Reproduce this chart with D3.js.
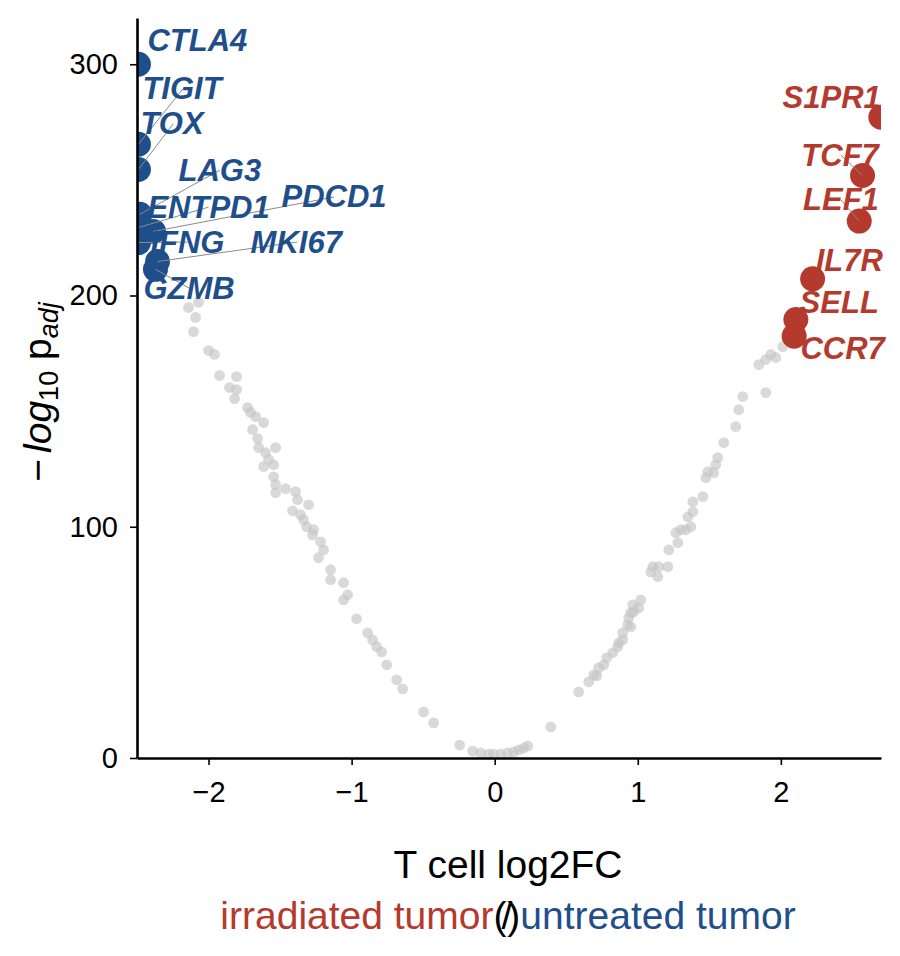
<!DOCTYPE html>
<html>
<head>
<meta charset="utf-8">
<script src="https://cdn.jsdelivr.net/npm/d3@7"></script>
<style>
  body { margin: 0; background: #fff; }
  svg { font-family: "Liberation Sans", Arial, Helvetica, sans-serif; }
</style>
</head>
<body>
<svg id="chart" width="900" height="956"></svg>
<script>
// background genes (log2FC, -log10 padj)
const bgX = [-2.070,-2.140,-2.091,-2.105,-2.000,-1.958,-1.923,-1.804,-1.853,-1.804,-1.818,-1.727,-1.706,-1.671,-1.615,-1.692,-1.657,-1.531,-1.650,-1.601,-1.580,-1.545,-1.615,-1.545,-1.531,-1.462,-1.392,-1.531,-1.378,-1.301,-1.413,-1.357,-1.336,-1.315,-1.266,-1.273,-1.217,-1.196,-1.231,-1.147,-1.147,-1.056,-1.028,-1.056,-0.965,-0.888,-0.853,-0.825,-0.790,-0.755,-0.685,-0.643,-0.497,-0.427,-0.245,-0.154,-0.098,-0.042,-0.007,0.042,0.091,0.133,0.168,0.203,0.231,
  0.392,0.587,0.657,0.713,0.692,0.727,0.762,0.783,0.825,0.860,0.867,0.895,0.895,0.930,0.951,0.937,0.951,0.972,1.007,0.965,1.021,1.091,1.105,1.140,1.147,1.210,1.217,1.280,1.266,1.301,1.336,1.371,1.350,1.385,1.385,1.455,1.476,1.490,1.531,1.545,1.559,1.601,1.685,1.706,1.734,1.895,1.846,1.895,1.930,1.965,2.014];
const bgY = [197.0,194.8,190.5,184.4,176.2,174.5,165.4,164.9,160.2,159.3,155.4,151.5,149.4,147.6,145.0,142.0,138.1,134.2,134.2,132.0,129.0,126.8,126.0,121.6,118.2,116.5,115.2,114.7,111.7,109.5,106.9,105.2,103.0,100.0,98.7,96.5,93.5,90.0,86.6,81.4,77.1,75.8,70.6,68.4,60.2,54.1,51.1,48.1,45.9,40.3,33.8,29.9,19.9,15.2,5.6,3.0,2.2,1.7,1.7,1.7,2.2,2.6,3.5,4.3,5.2,
  13.4,28.6,32.9,35.5,35.9,39.0,40.3,43.3,45.5,48.1,49.8,51.1,54.1,57.6,56.7,60.6,62.8,63.2,64.9,66.2,68.4,80.5,82.7,78.4,82.7,82.7,90.0,93.1,97.4,98.7,98.7,100.0,104.3,106.5,110.8,113.0,121.2,123.8,123.4,126.8,129.9,136.4,143.3,150.6,156.3,158.0,170.1,172.3,174.5,173.2,177.9];

// highlighted genes
const upGenes = ["CTLA4","TIGIT","TOX","LAG3","ENTPD1","PDCD1","IFNG","MKI67","GZMB"];
const upX = [-2.49,-2.49,-2.49,-2.48,-2.49,-2.385,-2.49,-2.357,-2.371];
const upY = [300.0,265.4,254.5,235.1,229.4,227.7,222.9,214.7,211.3];
const downGenes = ["S1PR1","TCF7","LEF1","IL7R","SELL","CCR7"];
const downX = [2.699,2.571,2.548,2.222,2.105,2.093];
const downY = [277.1,251.9,232.2,207.2,189.6,182.4];

// label anchors after repel (data units)
const upLabX = [-2.427,-2.462,-2.476,-2.210,-2.427,-1.490,-2.406,-1.706,-2.455];
const upLabY = [310.4,290.0,274.5,254.5,238.5,242.9,223.4,223.4,203.5];
const downLabX = [2.699,2.685,2.685,2.713,2.685,2.727];
const downLabY = [286.1,261.0,241.6,215.6,197.4,177.5];
const withArrow = ["TIGIT","TOX","LAG3","ENTPD1","PDCD1","IFNG","MKI67","GZMB","TCF7","LEF1"];

const xTicks = [-2,-1,0,1,2];
const yTicks = [0,100,200,300];

const BLUE = "#1f4f8b", RED = "#b43a2e";

let margin = {top: 18, right: 19, bottom: 198, left: 137},
    width = 900 - margin.left - margin.right,
    height = 956 - margin.top - margin.bottom;

const svg = d3.select('#chart');

const x = d3.scaleLinear().domain([-2.5, 2.7]).range([0, width]);
const y = d3.scaleLinear().domain([0, 320]).range([height, 0]);

const g = svg.append('g')
    .attr('transform', 'translate(' + margin.left + ',' + margin.top + ')');

svg.append('defs').append('clipPath').attr('id', 'plotclip')
  .append('rect').attr('x', 0).attr('y', 0).attr('width', width).attr('height', height);

const plot = g.append('g').attr('clip-path', 'url(#plotclip)');

const bg = bgX.map((v, i) => ({x: v, y: bgY[i]}));
plot.selectAll('.bg').data(bg).enter().append('circle')
    .attr('class', 'bg')
    .attr('cx', d => x(d.x))
    .attr('cy', d => y(d.y))
    .attr('r', 5.4)
    .attr('fill', '#c4c4c4')
    .attr('fill-opacity', 0.65);

const hits = upGenes.map((n, i) => ({name: n, x: upX[i], y: upY[i], lx: upLabX[i], ly: upLabY[i], c: BLUE, anchor: 'start'}))
  .concat(downGenes.map((n, i) => ({name: n, x: downX[i], y: downY[i], lx: downLabX[i], ly: downLabY[i], c: RED, anchor: 'end'})));

plot.selectAll('.hit').data(hits).enter().append('circle')
    .attr('class', 'hit')
    .attr('cx', d => x(d.x))
    .attr('cy', d => y(d.y))
    .attr('r', 12.5)
    .attr('fill', d => d.c);

// connectors go from the label centre to the point, text covers the inner part
const labels = g.append('g');
labels.selectAll('text').data(hits).enter().append('text')
    .attr('x', d => x(d.lx))
    .attr('y', d => y(d.ly))
    .attr('text-anchor', d => d.anchor)
    .attr('dy', '0.36em')
    .attr('fill', d => d.c)
    .style('font-size', '31px')
    .style('font-weight', 'bold')
    .style('font-style', 'italic')
    .text(d => d.name)
    .each(function(d) { d.bb = this.getBBox(); });

g.insert('g', () => labels.node()).selectAll('line')
    .data(hits.filter(d => withArrow.includes(d.name))).enter().append('line')
    .attr('x1', d => d.bb.x + d.bb.width / 2)
    .attr('y1', d => d.bb.y + d.bb.height / 2)
    .attr('x2', d => x(d.x))
    .attr('y2', d => y(d.y))
    .attr('stroke', '#8a8a8a')
    .attr('stroke-width', 1);

// axes
const xAxis = g.append('g')
    .attr('transform', 'translate(0,' + height + ')')
    .call(d3.axisBottom(x).tickValues(xTicks).tickFormat(d3.format('d')).tickSize(7).tickSizeOuter(0).tickPadding(16));
const yAxis = g.append('g')
    .call(d3.axisLeft(y).tickValues(yTicks).tickFormat(d3.format('d')).tickSize(7).tickSizeOuter(0).tickPadding(12));

[xAxis, yAxis].forEach(a => {
  a.select('.domain').attr('stroke', '#000').attr('stroke-width', 2.6);
  a.selectAll('.tick line').attr('stroke', '#000').attr('stroke-width', 1.6);
  a.selectAll('.tick text').attr('fill', '#000').style('font-size', '29px')
    .style('font-family', '"Liberation Sans", Arial, sans-serif');
});

// axis titles
svg.append('text')
    .attr('x', 508).attr('y', 878)
    .attr('text-anchor', 'middle')
    .style('font-size', '39px')
    .text('T cell log2FC');

const sub = svg.append('text')
    .attr('x', 508).attr('y', 929)
    .attr('text-anchor', 'middle')
    .style('font-size', '39px');
sub.append('tspan').attr('fill', RED).text('irradiated tumor');
sub.append('tspan').attr('fill', '#000').style('letter-spacing', '-5px').text('(/)');
sub.append('tspan').attr('fill', BLUE).attr('dx', 5).text('untreated tumor');

const ylab = svg.append('text')
    .attr('transform', 'translate(51,392) rotate(-90)')
    .attr('text-anchor', 'middle')
    .style('font-size', '39px');
ylab.append('tspan').text('\u2212');
ylab.append('tspan').attr('dx', 6).style('font-style', 'italic').text('log');
ylab.append('tspan').attr('dy', 7).style('font-size', '27px').text('10');
ylab.append('tspan').attr('dy', -7).text(' p');
ylab.append('tspan').attr('dy', 7).style('font-size', '27px').style('font-style', 'italic').text('adj');
</script>
</body>
</html>
